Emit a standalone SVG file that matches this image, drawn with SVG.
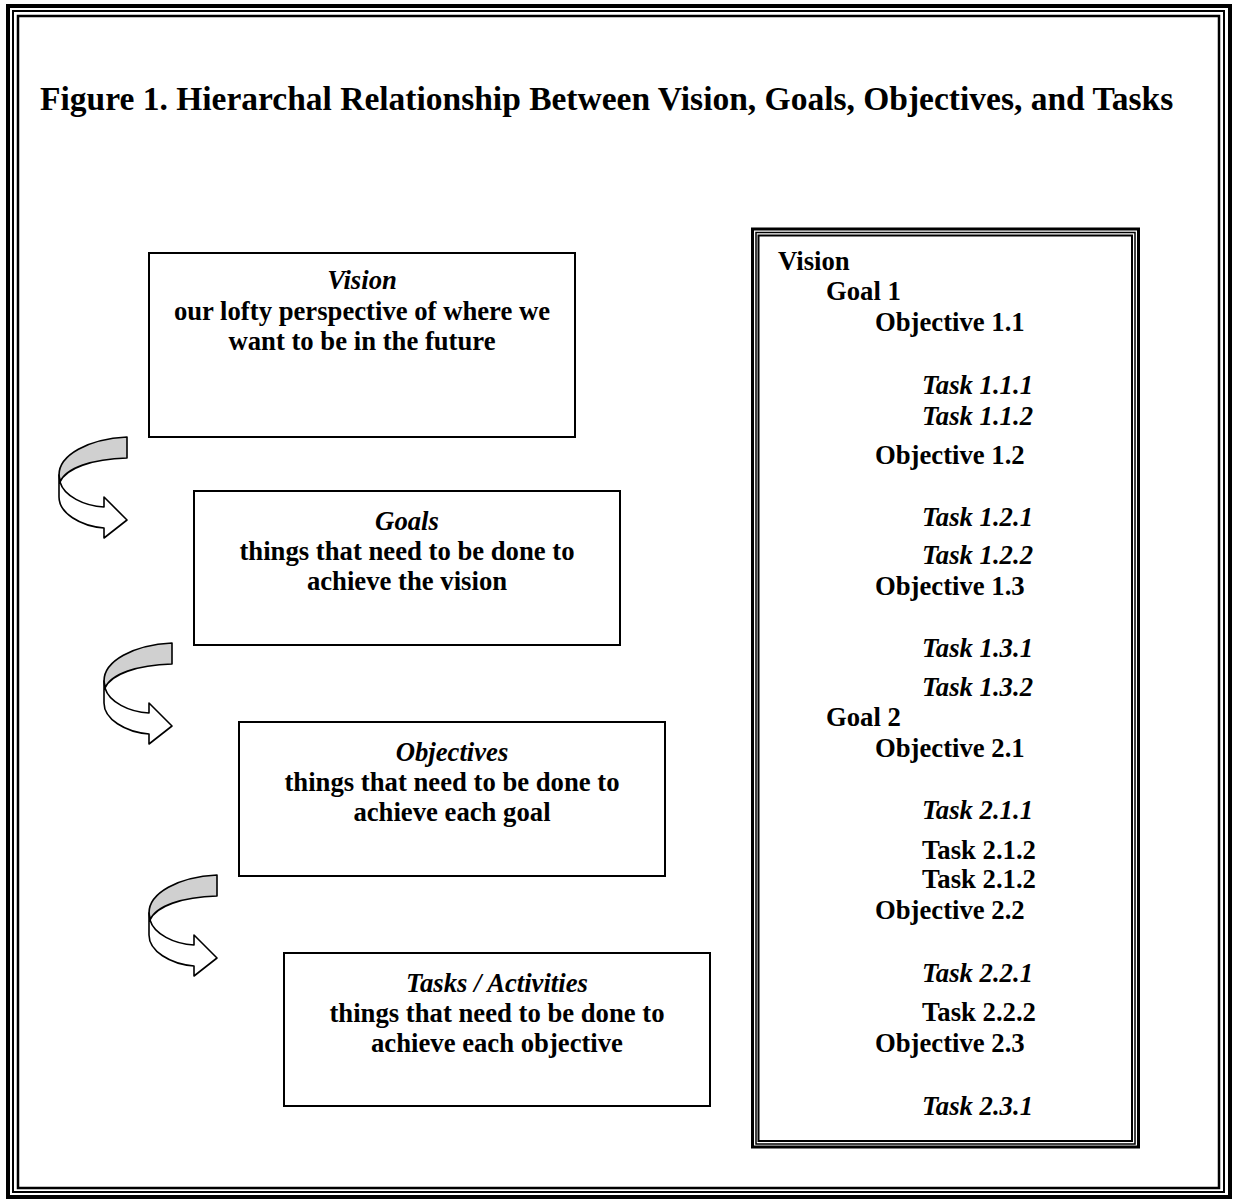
<svg xmlns="http://www.w3.org/2000/svg" width="1233" height="1201" viewBox="0 0 1233 1201">
<style>
text{font-family:"Liberation Serif","Times New Roman",serif;font-weight:bold;fill:#000}
.t{font-size:33.5px}
.b{font-size:26.7px}
.c{text-anchor:middle}
.i{font-style:italic}
.box{fill:#fff;stroke:#000;stroke-width:2}
.fr{fill:none;stroke:#000}
.ar{stroke:#000;stroke-width:1.6;stroke-linejoin:round}
</style>
<defs>
<g id="curv">
<path class="ar" fill="#d0d0d0" d="M127,437 C88,439 59,455 59,475 L60,482 C66,468 92,459 127,458 Z"/>
<path class="ar" fill="#fff" d="M59,475 L59,497 C59,513 80,526 104,528 L104,538 L127,520 L104,497 L104,507 C84,506 64,496 60,482 Z"/>
</g>
</defs>
<rect width="1233" height="1201" fill="#fff"/>
<g id="frame">
<rect class="fr" x="8" y="6" width="1222" height="1191" stroke-width="4"/>
<rect class="fr" x="13" y="11" width="1211" height="1181" stroke-width="2"/>
<rect class="fr" x="18" y="16" width="1201" height="1172" stroke-width="2.5"/>
</g>
<text id="title" class="t" x="40" y="110">Figure 1. Hierarchal Relationship Between Vision, Goals, Objectives, and Tasks</text>
<g id="connectors">
<use href="#curv"/>
<use href="#curv" transform="translate(45,206)"/>
<use href="#curv" transform="translate(90,438)"/>
</g>
<g id="vision">
<rect class="box" x="149" y="253" width="426" height="184"/>
<text class="b c i" x="362" y="289">Vision</text>
<text class="b c" x="362" y="320">our lofty perspective of where we</text>
<text class="b c" x="362" y="350">want to be in the future</text>
</g>
<g id="goals">
<rect class="box" x="194" y="491" width="426" height="154"/>
<text class="b c i" x="407" y="530">Goals</text>
<text class="b c" x="407" y="560">things that need to be done to</text>
<text class="b c" x="407" y="590">achieve the vision</text>
</g>
<g id="objectives">
<rect class="box" x="239" y="722" width="426" height="154"/>
<text class="b c i" x="452" y="761">Objectives</text>
<text class="b c" x="452" y="791">things that need to be done to</text>
<text class="b c" x="452" y="821">achieve each goal</text>
</g>
<g id="tasks">
<rect class="box" x="284" y="953" width="426" height="153"/>
<text class="b c i" x="497" y="992">Tasks / Activities</text>
<text class="b c" x="497" y="1022">things that need to be done to</text>
<text class="b c" x="497" y="1052">achieve each objective</text>
</g>
<g id="outline">
<rect class="fr" x="752.5" y="229" width="386" height="918" stroke-width="3"/>
<rect class="fr" x="756" y="232.5" width="379" height="911.5" stroke-width="1.5"/>
<rect class="fr" x="758.5" y="235.5" width="373.5" height="905.5" stroke-width="2"/>
<text class="b" x="778" y="270">Vision</text>
<text class="b" x="826" y="300">Goal 1</text>
<text class="b" x="875" y="331">Objective 1.1</text>
<text class="b i" x="922" y="394">Task 1.1.1</text>
<text class="b i" x="922" y="425">Task 1.1.2</text>
<text class="b" x="875" y="464">Objective 1.2</text>
<text class="b i" x="922" y="526">Task 1.2.1</text>
<text class="b i" x="922" y="564">Task 1.2.2</text>
<text class="b" x="875" y="595">Objective 1.3</text>
<text class="b i" x="922" y="657">Task 1.3.1</text>
<text class="b i" x="922" y="696">Task 1.3.2</text>
<text class="b" x="826" y="726">Goal 2</text>
<text class="b" x="875" y="757">Objective 2.1</text>
<text class="b i" x="922" y="819">Task 2.1.1</text>
<text class="b" x="922" y="859">Task 2.1.2</text>
<text class="b" x="922" y="888">Task 2.1.2</text>
<text class="b" x="875" y="919">Objective 2.2</text>
<text class="b i" x="922" y="982">Task 2.2.1</text>
<text class="b" x="922" y="1021">Task 2.2.2</text>
<text class="b" x="875" y="1052">Objective 2.3</text>
<text class="b i" x="922" y="1115">Task 2.3.1</text>
</g>
</svg>
